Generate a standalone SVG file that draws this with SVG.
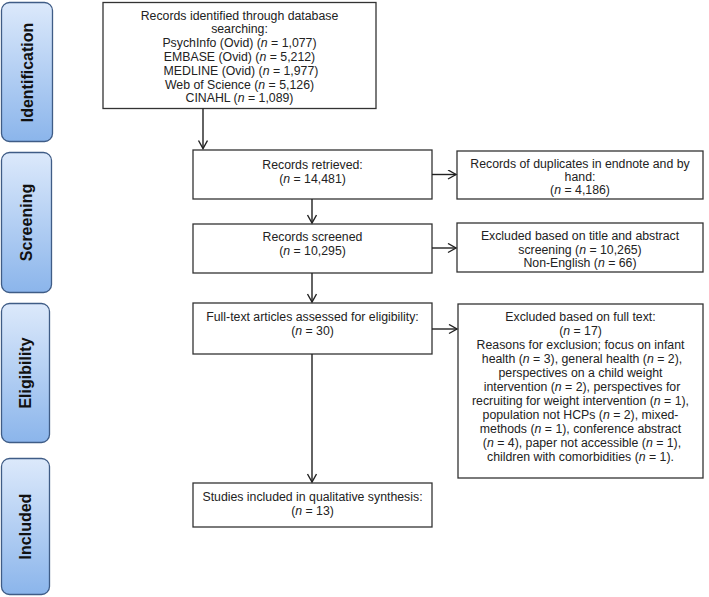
<svg xmlns="http://www.w3.org/2000/svg" width="709" height="597" viewBox="0 0 709 597">
<defs>
<linearGradient id="phase" x1="0" y1="0" x2="0" y2="1">
<stop offset="0" stop-color="#dce9fb"/>
<stop offset="1" stop-color="#8bb5eb"/>
</linearGradient>
<marker id="arr" markerUnits="userSpaceOnUse" markerWidth="12" markerHeight="12" refX="9" refY="5" orient="auto">
<path d="M1,0.5 L9,5 L1,9.5" fill="none" stroke="#222" stroke-width="1.4"/>
</marker>
<style>
.ph{fill:url(#phase);stroke:#3f5c86;stroke-width:1.3}
.pt{font-family:"Liberation Sans",Arial,sans-serif;font-size:16px;font-weight:bold;fill:#111;text-anchor:middle}
.bx{fill:#fff;stroke:#333;stroke-width:1.3}
.t{font-family:"Liberation Sans",Arial,sans-serif;font-size:12.3px;fill:#222;text-anchor:middle}
.c{fill:none;stroke:#222;stroke-width:1.4;marker-end:url(#arr)}
</style>
</defs>
<rect width="709" height="597" fill="#fff"/>
<g id="phase-identification"><rect class="ph" x="1.5" y="2.5" width="51" height="139" rx="8"/><text class="pt" transform="translate(32.5,72.5) rotate(-90)">Identification</text></g>
<g id="phase-screening"><rect class="ph" x="1.5" y="152.5" width="50" height="140" rx="8"/><text class="pt" transform="translate(32,222.5) rotate(-90)">Screening</text></g>
<g id="phase-eligibility"><rect class="ph" x="1.5" y="303.5" width="48" height="139" rx="8"/><text class="pt" transform="translate(31,373) rotate(-90)">Eligibility</text></g>
<g id="phase-included"><rect class="ph" x="1.5" y="458.5" width="48" height="136" rx="8"/><text class="pt" transform="translate(31,526.5) rotate(-90)">Included</text></g>
<g id="records-identified"><rect class="bx" x="103" y="2.5" width="273" height="106"/>
<text class="t" x="239.5" y="19.5">Records identified through database</text>
<text class="t" x="239.5" y="33.3">searching:</text>
<text class="t" x="239.5" y="47.1">PsychInfo (Ovid) (<tspan font-style="italic">n</tspan> = 1,077)</text>
<text class="t" x="239.5" y="60.9">EMBASE (Ovid) (<tspan font-style="italic">n</tspan> = 5,212)</text>
<text class="t" x="241" y="74.7">MEDLINE (Ovid) (<tspan font-style="italic">n</tspan> = 1,977)</text>
<text class="t" x="239.5" y="88.5">Web of Science (<tspan font-style="italic">n</tspan> = 5,126)</text>
<text class="t" x="239.5" y="102.3">CINAHL (<tspan font-style="italic">n</tspan> = 1,089)</text></g>
<g id="records-retrieved"><rect class="bx" x="193" y="150" width="239" height="49"/>
<text class="t" x="312.5" y="169">Records retrieved:</text>
<text class="t" x="312.5" y="182.5">(<tspan font-style="italic">n</tspan> = 14,481)</text></g>
<g id="duplicates"><rect class="bx" x="457" y="151" width="246" height="48"/>
<text class="t" x="580" y="167.5">Records of duplicates in endnote and by</text>
<text class="t" x="580" y="180.7">hand:</text>
<text class="t" x="580" y="194">(<tspan font-style="italic">n</tspan> = 4,186)</text></g>
<g id="records-screened"><rect class="bx" x="193" y="224" width="239" height="49"/>
<text class="t" x="312.5" y="241">Records screened</text>
<text class="t" x="312.5" y="254.5">(<tspan font-style="italic">n</tspan> = 10,295)</text></g>
<g id="excluded-title"><rect class="bx" x="457" y="223" width="246" height="49"/>
<text class="t" x="580" y="240.3">Excluded based on title and abstract</text>
<text class="t" x="580" y="253.6">screening (<tspan font-style="italic">n</tspan> = 10,265)</text>
<text class="t" x="580" y="266.9">Non-English (<tspan font-style="italic">n</tspan> = 66)</text></g>
<g id="full-text"><rect class="bx" x="193" y="303" width="239" height="51"/>
<text class="t" x="312.5" y="320.5">Full-text articles assessed for eligibility:</text>
<text class="t" x="312.5" y="334.5">(<tspan font-style="italic">n</tspan> = 30)</text></g>
<g id="excluded-full"><rect class="bx" x="458" y="304" width="245" height="174"/>
<text class="t" x="580.5" y="321">Excluded based on full text:</text>
<text class="t" x="580.5" y="335">(<tspan font-style="italic">n</tspan> = 17)</text>
<text class="t" x="580.5" y="349">Reasons for exclusion; focus on infant</text>
<text class="t" x="582" y="363">health (<tspan font-style="italic">n</tspan> = 3), general health (<tspan font-style="italic">n</tspan> = 2),</text>
<text class="t" x="580.5" y="377">perspectives on a child weight</text>
<text class="t" x="582" y="391">intervention (<tspan font-style="italic">n</tspan> = 2), perspectives for</text>
<text class="t" x="580.5" y="405">recruiting for weight intervention (<tspan font-style="italic">n</tspan> = 1),</text>
<text class="t" x="580.5" y="419">population not HCPs (<tspan font-style="italic">n</tspan> = 2), mixed-</text>
<text class="t" x="580.5" y="433">methods (<tspan font-style="italic">n</tspan> = 1), conference abstract</text>
<text class="t" x="582" y="447">(<tspan font-style="italic">n</tspan> = 4), paper not accessible (<tspan font-style="italic">n</tspan> = 1),</text>
<text class="t" x="580.5" y="461">children with comorbidities (<tspan font-style="italic">n</tspan> = 1).</text></g>
<g id="included"><rect class="bx" x="193" y="483" width="239" height="44"/>
<text class="t" x="312.5" y="501">Studies included in qualitative synthesis:</text>
<text class="t" x="312.5" y="515">(<tspan font-style="italic">n</tspan> = 13)</text></g>
<g id="connectors">
<line class="c" x1="203" y1="108.5" x2="203" y2="148.5"/>
<line class="c" x1="312" y1="199" x2="312" y2="223"/>
<line class="c" x1="312" y1="273" x2="312" y2="302"/>
<line class="c" x1="312" y1="354" x2="312" y2="482"/>
<line class="c" x1="432" y1="174.5" x2="456" y2="174.5"/>
<line class="c" x1="432" y1="248" x2="456" y2="248"/>
<line class="c" x1="432" y1="329" x2="457" y2="329"/>
</g>
</svg>
